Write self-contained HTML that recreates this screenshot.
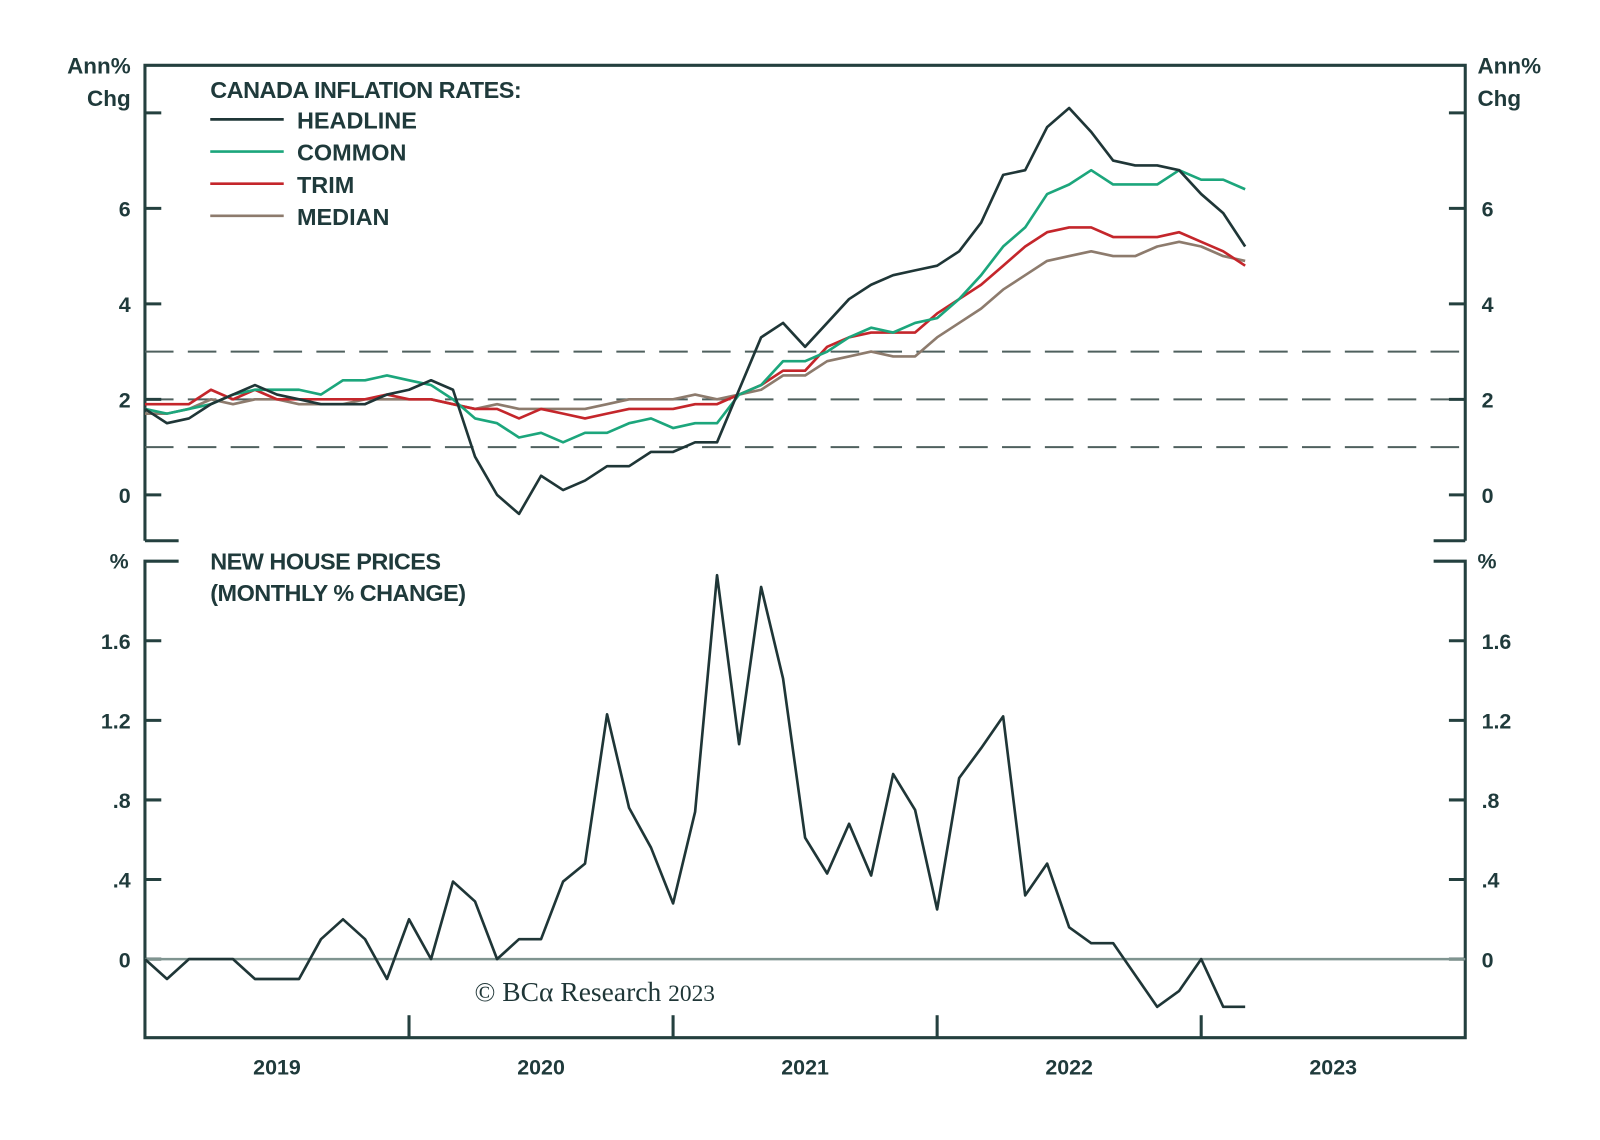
<!DOCTYPE html>
<html><head><meta charset="utf-8"><style>
html,body{margin:0;padding:0;background:#fff;}
svg{display:block;}
.t{font-family:"Liberation Sans Narrow","Liberation Sans",sans-serif;font-weight:bold;fill:#1f3a3b;}
</style></head><body>
<svg id="c" width="1600" height="1140" viewBox="0 0 1568 1117.3"></svg>
<script>
const months = 51;
const headline = [1.8,1.5,1.6,1.9,2.1,2.3,2.1,2.0,1.9,1.9,1.9,2.1,2.2,2.4,2.2,0.8,0.0,-0.4,0.4,0.1,0.3,0.6,0.6,0.9,0.9,1.1,1.1,2.2,3.3,3.6,3.1,3.6,4.1,4.4,4.6,4.7,4.8,5.1,5.7,6.7,6.8,7.7,8.1,7.6,7.0,6.9,6.9,6.8,6.3,5.9,5.2];
const common = [1.8,1.7,1.8,1.9,2.1,2.2,2.2,2.2,2.1,2.4,2.4,2.5,2.4,2.3,2.0,1.6,1.5,1.2,1.3,1.1,1.3,1.3,1.5,1.6,1.4,1.5,1.5,2.1,2.3,2.8,2.8,3.0,3.3,3.5,3.4,3.6,3.7,4.1,4.6,5.2,5.6,6.3,6.5,6.8,6.5,6.5,6.5,6.8,6.6,6.6,6.4];
const trim = [1.9,1.9,1.9,2.2,2.0,2.2,2.0,2.0,2.0,2.0,2.0,2.1,2.0,2.0,1.9,1.8,1.8,1.6,1.8,1.7,1.6,1.7,1.8,1.8,1.8,1.9,1.9,2.1,2.3,2.6,2.6,3.1,3.3,3.4,3.4,3.4,3.8,4.1,4.4,4.8,5.2,5.5,5.6,5.6,5.4,5.4,5.4,5.5,5.3,5.1,4.8];
const median = [1.7,1.7,1.8,2.0,1.9,2.0,2.0,1.9,1.9,1.9,2.0,2.0,2.0,2.0,1.9,1.8,1.9,1.8,1.8,1.8,1.8,1.9,2.0,2.0,2.0,2.1,2.0,2.1,2.2,2.5,2.5,2.8,2.9,3.0,2.9,2.9,3.3,3.6,3.9,4.3,4.6,4.9,5.0,5.1,5.0,5.0,5.2,5.3,5.2,5.0,4.9];
const housePrices = [0,-0.1,0,0,0,-0.1,-0.1,-0.1,0.1,0.2,0.1,-0.1,0.2,0,0.39,0.29,0,0.1,0.1,0.39,0.48,1.23,0.76,0.56,0.28,0.74,1.93,1.08,1.87,1.41,0.61,0.43,0.68,0.42,0.93,0.75,0.25,0.91,1.06,1.22,0.32,0.48,0.16,0.08,0.08,-0.08,-0.24,-0.16,0,-0.24,-0.24];
const topTicks = [0,2,4,6,8];
const topTickLabels = ["0","2","4","6",""];
const bandLines = [1,2,3];
const botTicks = [0,0.4,0.8,1.2,1.6];
const botTickLabels = ["0",".4",".8","1.2","1.6"];
const years = ["2019","2020","2021","2022","2023"];

const svg = document.getElementById('c');
const NS = 'http://www.w3.org/2000/svg';
const L = 142, R = 1436;
const monthW = (R - L) / 60;
const xM = i => L + i * monthW;
const yTop = v => 485 - v * 46.8;
const yBot = v => 940 - v * 195;
function mk(tag, attrs, parent) {
  const e = document.createElementNS(NS, tag);
  for (const k in attrs) e.setAttribute(k, attrs[k]);
  (parent || svg).appendChild(e);
  return e;
}
const AX = '#24403f';
let e;
e = mk('path', {d:`M${L} 530 L${L} 64 L${R} 64 L${R} 530 M${L} 530 L175 530 M1405 530 L${R} 530`, fill:'none', stroke:AX, 'stroke-width':3});


e = mk('path', {d:`M175 550 L${L} 550 L${L} 1017 L${R} 1017 L${R} 550 L1405 550`, fill:'none', stroke:AX, 'stroke-width':3});


bandLines.forEach(v => {
  const l = mk('line', {x1:L, x2:R, y1:yTop(v), y2:yTop(v), stroke:'#4f605e', 'stroke-width':2, 'stroke-dasharray':'28 14'});
  
  
});
topTicks.forEach((v, i) => {
  const y = yTop(v);
  mk('line', {x1:L, x2:L+16, y1:y, y2:y, stroke:AX, 'stroke-width':3});
  mk('line', {x1:R-16, x2:R, y1:y, y2:y, stroke:AX, 'stroke-width':3});
  if (topTickLabels[i]) {
    const a = mk('text', {x:128, y:y+8, 'text-anchor':'end', 'font-size':21, class:'t'});
    a.textContent = topTickLabels[i];
    
    
    const b = mk('text', {x:1452, y:y+8, 'font-size':21, class:'t'});
    b.textContent = topTickLabels[i];
    
    
  }
});
botTicks.forEach((v, i) => {
  const y = yBot(v);
  mk('line', {x1:L, x2:L+16, y1:y, y2:y, stroke:AX, 'stroke-width':3});
  mk('line', {x1:R-16, x2:R, y1:y, y2:y, stroke:AX, 'stroke-width':3});
  const a = mk('text', {x:128, y:y+8, 'text-anchor':'end', 'font-size':21, class:'t'});
  a.textContent = botTickLabels[i];
  
  
  const b = mk('text', {x:1452, y:y+8, 'font-size':21, class:'t'});
  b.textContent = botTickLabels[i];
  
  
});
e = mk('line', {x1:L, x2:R, y1:yBot(0), y2:yBot(0), stroke:'#7f9490', 'stroke-width':2.5});


years.forEach((yr, i) => {
  const x0 = xM(i * 12);
  if (i > 0) mk('line', {x1:x0, x2:x0, y1:1017, y2:995, stroke:AX, 'stroke-width':3});
  const t = mk('text', {x:x0 + monthW * 6, y:1053, 'text-anchor':'middle', 'font-size':21, class:'t'});
  t.textContent = yr;
  
  
});
[[128,'end'],[1448,'start']].forEach(([x, anc]) => {
  const a = mk('text', {x:x, y:72, 'text-anchor':anc, 'font-size':22, class:'t'}); a.textContent = 'Ann%';
  
  
  const b = mk('text', {x:x, y:104, 'text-anchor':anc, 'font-size':22, class:'t'}); b.textContent = 'Chg';
  
  
  const c = mk('text', {x:anc==='end'?126:1448, y:557, 'text-anchor':anc, 'font-size':21, class:'t'}); c.textContent = '%';
  
  
});
function line(data, yf, color, name, w) {
  const d = data.map((v, i) => (i ? 'L' : 'M') + xM(i).toFixed(1) + ' ' + yf(v).toFixed(1)).join(' ');
  const p = mk('path', {d:d, fill:'none', stroke:color, 'stroke-width':w || 2.6, 'stroke-linejoin':'round'});
  
  
}
line(median, yTop, '#8d7b6d', 'median-line');
line(trim, yTop, '#c4262b', 'trim-line');
line(common, yTop, '#1ca67c', 'common-line');
line(headline, yTop, '#1f3637', 'headline-line');
line(housePrices, yBot, '#1f3637', 'new-house-prices-line');
const lt = mk('text', {x:206, y:96, 'font-size':23, class:'t', 'letter-spacing':'-0.5'});
lt.textContent = 'CANADA INFLATION RATES:';


const legNames = ['HEADLINE','COMMON','TRIM','MEDIAN'];
const legColors = ['#1f3637','#1ca67c','#c4262b','#8d7b6d'];
legNames.forEach((n, i) => {
  const y = 117 + i * 31.5;
  const l = mk('line', {x1:206, x2:278, y1:y, y2:y, stroke:legColors[i], 'stroke-width':2.6});
  
  
  const t = mk('text', {x:291, y:y+9, 'font-size':23, class:'t'});
  t.textContent = n;
  
  
});
const h1 = mk('text', {x:206, y:558, 'font-size':23, class:'t', 'letter-spacing':'-0.5'});
h1.textContent = 'NEW HOUSE PRICES';


const h2 = mk('text', {x:206, y:589, 'font-size':23, class:'t', 'letter-spacing':'-0.5'});
h2.textContent = '(MONTHLY % CHANGE)';


const cp = mk('text', {x:465, y:981, 'font-size':27, fill:'#1f3637', 'font-family':'"Liberation Serif",serif'});
cp.innerHTML = '© BCα Research <tspan font-size="23">2023</tspan>';


</script>
</body></html>
